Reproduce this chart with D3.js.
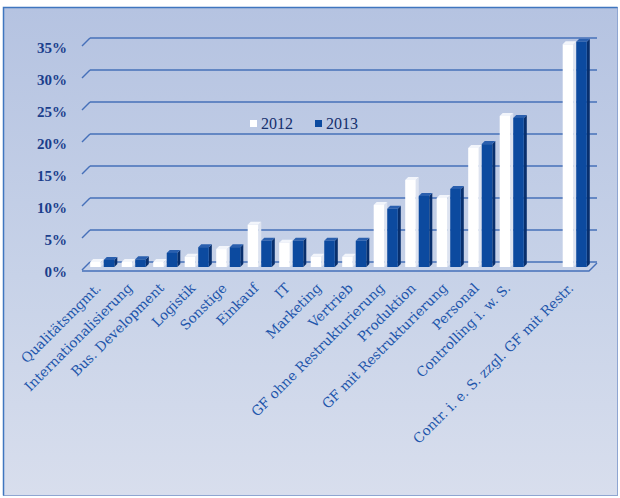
<!DOCTYPE html>
<html lang="de">
<head>
<meta charset="UTF-8">
<script src="https://d3js.org/d3.v7.min.js"></script>
<style>
  body { margin: 0; background: #fff; }
  svg { display: block; }
</style>
</head>
<body>
<div id="chart"></div>
<script>
// Data
const categories = [
  "Qualitätsmgmt.", "Internationalisierung", "Bus. Development", "Logistik",
  "Sonstige", "Einkauf", "IT", "Marketing", "Vertrieb", "GF ohne Restrukturierung",
  "Produktion", "GF mit Restrukturierung", "Personal", "Controlling i. w. S.",
  "", "Contr. i. e. S. zzgl. GF mit Restr."
];
const series = ["2012", "2013"];
const values2012 = [0.8, 0.8, 0.8, 1.6, 2.8, 6.6, 3.8, 1.6, 1.6, 9.7, 13.6, 10.8, 18.6, 23.6, null, 34.8];
const values2013 = [1.1, 1.2, 2.2, 3.1, 3.1, 4.1, 4.1, 4.1, 4.1, 9.1, 11.1, 12.2, 19.2, 23.3, null, 35.2];
const yTicks = [0, 5, 10, 15, 20, 25, 30, 35];

const width = 620, height = 498;
const depth = 8;        // back wall offset
const barDepth = 3;     // bar side/top depth
const barLift = 3;      // bars sit a little behind the front edge

const svg = d3.select("#chart").append("svg")
  .attr("width", width)
  .attr("height", height);

// Background
const defs = svg.append("defs");
const grad = defs.append("linearGradient")
  .attr("id", "bg").attr("x1", 0).attr("y1", 0).attr("x2", 0).attr("y2", 1);
grad.append("stop").attr("offset", "0%").attr("stop-color", "#b5c3e1");
grad.append("stop").attr("offset", "55%").attr("stop-color", "#c7d2e8");
grad.append("stop").attr("offset", "100%").attr("stop-color", "#d8deed");

svg.append("rect").attr("width", width).attr("height", height).attr("fill", "#fff");
svg.append("rect")
  .attr("x", 3.5).attr("y", 7.5)
  .attr("width", 614).attr("height", 488)
  .attr("fill", "url(#bg)")
  .attr("stroke", "#8fa6d2")
  .attr("stroke-width", 1);
// stronger top and left border
svg.append("path")
  .attr("d", "M3.5,495.5 L3.5,7.5 L617.5,7.5")
  .attr("fill", "none")
  .attr("stroke", "#3f76bf")
  .attr("stroke-width", 1.5);

// Scales
const yScale = d3.scaleLinear().domain([0, 35]).range([270, 46]);

const xScale = d3.scaleBand()
  .domain(categories)
  .range([88, 592])
  .paddingInner(0.14)
  .paddingOuter(0.07);

const xSub = d3.scaleBand()
  .domain(series)
  .range([0, xScale.bandwidth()]);

const wallLeft = 82, wallRight = 589;

// Gridlines (back wall) and left wall slants
const grid = svg.append("g").attr("stroke", "#4670b9").attr("stroke-width", 1.4).attr("fill", "none");
grid.selectAll("line.g")
  .data(yTicks)
  .join("line")
  .attr("class", "g")
  .attr("x1", wallLeft + depth).attr("x2", wallRight + depth)
  .attr("y1", d => yScale(d) - depth).attr("y2", d => yScale(d) - depth);
grid.selectAll("line.s")
  .data(yTicks)
  .join("line")
  .attr("class", "s")
  .attr("x1", wallLeft).attr("x2", wallLeft + depth)
  .attr("y1", d => yScale(d)).attr("y2", d => yScale(d) - depth);

// Bars
const rows = categories.map((c, i) => ({ cat: c, v: [values2012[i], values2013[i]] }));
const faces = {
  "2012": { front: "#ffffff", side: "#dde3f0", top: "#f2f5fb" },
  "2013": { front: "#0c4a9f", side: "#082f6d", top: "#2a5fae" }
};

const barData = [];
rows.forEach(r => series.forEach((s, j) => {
  if (r.v[j] != null) barData.push({ cat: r.cat, key: s, value: r.v[j] });
}));

const bw = xSub.bandwidth() - barDepth;
svg.append("g").selectAll("g")
  .data(barData)
  .join("g")
  .each(function (d) {
    const g = d3.select(this);
    const x = xScale(d.cat) + xSub(d.key);
    const y0 = yScale(0) - barLift;
    const y1 = yScale(d.value) - barLift;
    const f = faces[d.key];
    g.append("path")
      .attr("d", `M${x + bw},${y1} L${x + bw + barDepth},${y1 - barDepth} L${x + bw + barDepth},${y0 - barDepth} L${x + bw},${y0} Z`)
      .attr("fill", f.side);
    g.append("path")
      .attr("d", `M${x},${y1} L${x + barDepth},${y1 - barDepth} L${x + bw + barDepth},${y1 - barDepth} L${x + bw},${y1} Z`)
      .attr("fill", f.top);
    g.append("rect")
      .attr("x", x).attr("y", y1)
      .attr("width", bw).attr("height", y0 - y1)
      .attr("fill", f.front);
  });

// Floor front edge
svg.append("path")
  .attr("d", `M${wallLeft},${yScale(0) + 1} L${wallRight},${yScale(0) + 1} L${wallRight + depth},${yScale(0) + 1 - depth}`)
  .attr("fill", "none")
  .attr("stroke", "#4670b9")
  .attr("stroke-width", 1.4);

// Y axis labels
svg.append("g")
  .attr("transform", `translate(${wallLeft},0)`)
  .call(d3.axisLeft(yScale).tickValues(yTicks).tickFormat(d => d + "%").tickSize(0).tickPadding(15))
  .call(g => g.select(".domain").remove())
  .selectAll("text")
  .attr("dy", "0.4em")
  .style("font-family", "'Liberation Serif', serif")
  .style("font-weight", "bold")
  .style("font-size", "15px")
  .style("fill", "#1b3e8c");

// X axis labels
svg.append("g").selectAll("text")
  .data(categories)
  .join("text")
  .attr("transform", d => `translate(${xScale(d) + xScale.bandwidth() / 2 - 2},${289}) rotate(-45)`)
  .attr("text-anchor", "end")
  .style("font-family", "'DejaVu Serif', serif")
  .style("font-size", "13.5px")
  .style("fill", "#2155ab")
  .text(d => d);

// Legend
const legend = svg.append("g").attr("transform", "translate(250,0)");
const legendItems = legend.selectAll("g")
  .data(series)
  .join("g")
  .attr("transform", (d, i) => `translate(${i * 65},0)`);
legendItems.append("rect")
  .attr("x", 0).attr("y", 120)
  .attr("width", 7).attr("height", 7)
  .attr("fill", d => faces[d].front);
legendItems.append("text")
  .attr("x", 11).attr("y", 129)
  .style("font-family", "'Liberation Serif', serif")
  .style("font-size", "16px")
  .style("fill", "#142f6c")
  .text(d => d);
</script>
</body>
</html>
